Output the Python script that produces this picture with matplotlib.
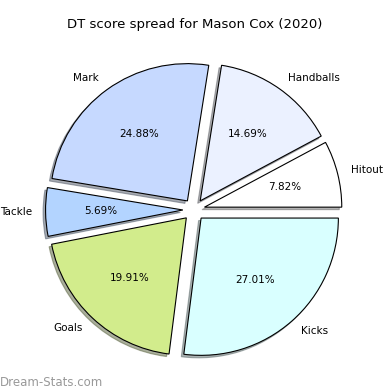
import matplotlib
matplotlib.use("Agg")
import matplotlib.pyplot as plt

categories = ["Hitout", "Handballs", "Mark", "Tackle", "Goals", "Kicks"]
values = [7.82, 14.69, 24.88, 5.69, 19.91, 27.01]
colors = ["#ffffff", "#ebf1ff", "#c6d9ff", "#b3d4ff", "#d2ec8c", "#d9ffff"]

fig = plt.figure(figsize=(3.9, 3.9), dpi=100)
ax = fig.add_axes([0.057, 0.022, 0.88, 0.88])
wedges, texts, autotexts = ax.pie(
    values, labels=categories, colors=colors, autopct="%1.2f%%",
    startangle=0, counterclock=True, explode=[0.08] * len(values),
    shadow={"ox": -0.013, "oy": -0.013, "shade": 0.6},
    wedgeprops=dict(edgecolor="black", linewidth=0.8),
    textprops=dict(fontsize=7.5), pctdistance=0.6, labeldistance=1.1,
)
ax.set_aspect("equal")
fig.text(0.5, 0.937, "DT score spread for Mason Cox (2020)", ha="center", va="center", fontsize=9.5)
fig.text(0.0, 0.02, "Dream-Stats.com", ha="left", va="center", fontsize=8.5, color="#999999")
fig.savefig("out.png", dpi=100)
